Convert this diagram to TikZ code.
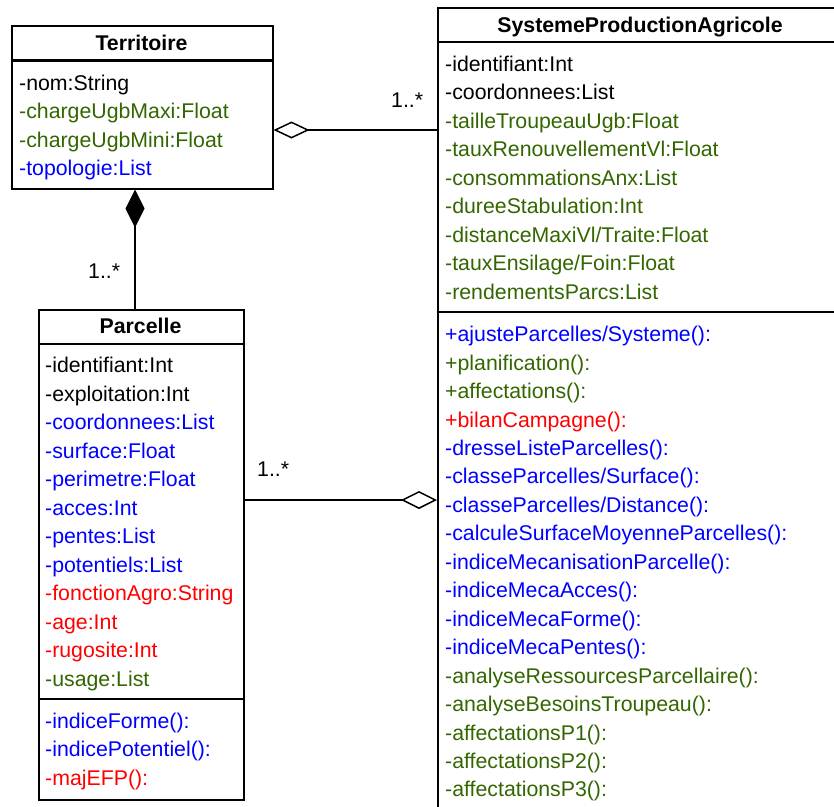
\documentclass[tikz,border=0pt]{standalone}
\usepackage{fontspec}
\setmainfont{Liberation Sans}
\usetikzlibrary{arrows.meta,calc}
\definecolor{umlgreen}{RGB}{51,102,0}
\definecolor{umlblue}{RGB}{0,0,255}
\definecolor{umlred}{RGB}{255,0,0}
\begin{document}
\begin{tikzpicture}[x=1pt,y=-1pt,
  txt/.style={anchor=base west, inner sep=0pt, font=\fontsize{21.3pt}{25pt}\selectfont},
  hdr/.style={anchor=base, inner sep=0pt, font=\fontsize{21.3pt}{25pt}\selectfont\bfseries},
  classbox/.style={draw, line width=1.5pt, anchor=north west, inner sep=0pt},
  sepline/.style={line width=2.2pt},
  conn/.style={line width=1.5pt},
  lbl/.style={anchor=base west, inner sep=0pt, font=\fontsize{21.3pt}{25pt}\selectfont}]
\useasboundingbox (0,0) rectangle (834,806);
\clip (0,0) rectangle (834,806);

% ---------- boxes ----------
\node[classbox, minimum width=261pt, minimum height=163pt] (terr) at (11,25) {};
\node[classbox, minimum width=420pt, minimum height=830pt] (spa) at (437,7) {};
\node[classbox, minimum width=205pt, minimum height=490pt] (parc) at (38,309) {};

\draw[sepline] ($(terr.north west)+(0,35.5)$) -- ($(terr.north east)+(0,35.5)$);
\draw[sepline] ($(spa.north west)+(0,35.3)$) -- ($(spa.north east)+(0,35.3)$);
\draw[sepline] ($(spa.north west)+(0,305)$) -- ($(spa.north east)+(0,305)$);
\draw[sepline] ($(parc.north west)+(0,35)$) -- ($(parc.north east)+(0,35)$);
\draw[sepline] ($(parc.north west)+(0,390)$) -- ($(parc.north east)+(0,390)$);

% ---------- Territoire ----------
\node[hdr] (terrH) at (141.5,50) {Territoire};
\node[txt] (terr1) at (19,90) {-nom:String};
\node[txt, text=umlgreen] (terr2) at (19,118.5) {-chargeUgbMaxi:Float};
\node[txt, text=umlgreen] (terr3) at (19,147) {-chargeUgbMini:Float};
\node[txt, text=umlblue] (terr4) at (19,175.5) {-topologie:List};

% ---------- SystemeProductionAgricole ----------
\node[hdr] (spaH) at (640,32) {SystemeProductionAgricole};
\node[txt] (spaA1) at (445,71) {-identifiant:Int};
\node[txt] (spaA2) at (445,99.5) {-coordonnees:List};
\node[txt, text=umlgreen] (spaA3) at (445,128) {-tailleTroupeauUgb:Float};
\node[txt, text=umlgreen] (spaA4) at (445,156.5) {-tauxRenouvellementVl:Float};
\node[txt, text=umlgreen] (spaA5) at (445,185) {-consommationsAnx:List};
\node[txt, text=umlgreen] (spaA6) at (445,213.5) {-dureeStabulation:Int};
\node[txt, text=umlgreen] (spaA7) at (445,242) {-distanceMaxiVl/Traite:Float};
\node[txt, text=umlgreen] (spaA8) at (445,270.5) {-tauxEnsilage/Foin:Float};
\node[txt, text=umlgreen] (spaA9) at (445,299) {-rendementsParcs:List};

\node[txt, text=umlblue] (spaM1) at (445,341.7) {+ajusteParcelles/Systeme():};
\node[txt, text=umlgreen] (spaM2) at (445,370.15) {+planification():};
\node[txt, text=umlgreen] (spaM3) at (445,398.6) {+affectations():};
\node[txt, text=umlred] (spaM4) at (445,427.05) {+bilanCampagne():};
\node[txt, text=umlblue] (spaM5) at (445,455.5) {-dresseListeParcelles():};
\node[txt, text=umlblue] (spaM6) at (445,483.95) {-classeParcelles/Surface():};
\node[txt, text=umlblue] (spaM7) at (445,512.4) {-classeParcelles/Distance():};
\node[txt, text=umlblue] (spaM8) at (445,540.85) {-calculeSurfaceMoyenneParcelles():};
\node[txt, text=umlblue] (spaM9) at (445,569.3) {-indiceMecanisationParcelle():};
\node[txt, text=umlblue] (spaM10) at (445,597.75) {-indiceMecaAcces():};
\node[txt, text=umlblue] (spaM11) at (445,626.2) {-indiceMecaForme():};
\node[txt, text=umlblue] (spaM12) at (445,654.65) {-indiceMecaPentes():};
\node[txt, text=umlgreen] (spaM13) at (445,683.1) {-analyseRessourcesParcellaire():};
\node[txt, text=umlgreen] (spaM14) at (445,711.55) {-analyseBesoinsTroupeau():};
\node[txt, text=umlgreen] (spaM15) at (445,740) {-affectationsP1():};
\node[txt, text=umlgreen] (spaM16) at (445,768.45) {-affectationsP2():};
\node[txt, text=umlgreen] (spaM17) at (445,796.9) {-affectationsP3():};

% ---------- Parcelle ----------
\node[hdr] (parcH) at (140.5,333) {Parcelle};
\node[txt] (parcA1) at (45,372.7) {-identifiant:Int};
\node[txt] (parcA2) at (45,401.2) {-exploitation:Int};
\node[txt, text=umlblue] (parcA3) at (45,429.7) {-coordonnees:List};
\node[txt, text=umlblue] (parcA4) at (45,458.2) {-surface:Float};
\node[txt, text=umlblue] (parcA5) at (45,486.7) {-perimetre:Float};
\node[txt, text=umlblue] (parcA6) at (45,515.2) {-acces:Int};
\node[txt, text=umlblue] (parcA7) at (45,543.7) {-pentes:List};
\node[txt, text=umlblue] (parcA8) at (45,572.2) {-potentiels:List};
\node[txt, text=umlred] (parcA9) at (45,600.7) {-fonctionAgro:String};
\node[txt, text=umlred] (parcA10) at (45,629.2) {-age:Int};
\node[txt, text=umlred] (parcA11) at (45,657.7) {-rugosite:Int};
\node[txt, text=umlgreen] (parcA12) at (45,686.2) {-usage:List};
\node[txt, text=umlblue] (parcM1) at (45,728) {-indiceForme():};
\node[txt, text=umlblue] (parcM2) at (45,756.5) {-indicePotentiel():};
\node[txt, text=umlred] (parcM3) at (45,785) {-majEFP():};

% ---------- connectors ----------
\draw[conn, {Diamond[open,length=36pt,width=17pt]}-]
  ($(terr.north east)+(0,105)$) -- ($(spa.north west)+(0,123)$);
\draw[conn, {Diamond[length=38pt,width=19pt]}-]
  ($(terr.south west)+(124,0)$) -- ($(parc.north west)+(97,0)$);
\draw[conn, -{Diamond[open,length=36pt,width=18pt]}]
  ($(parc.north east)+(0,191)$) -- ($(spa.north west)+(0,493)$);

\node[lbl] (m1) at (391,107) {1..*};
\node[lbl] (m2) at (88,278) {1..*};
\node[lbl] (m3) at (257,476) {1..*};
\end{tikzpicture}
\end{document}
